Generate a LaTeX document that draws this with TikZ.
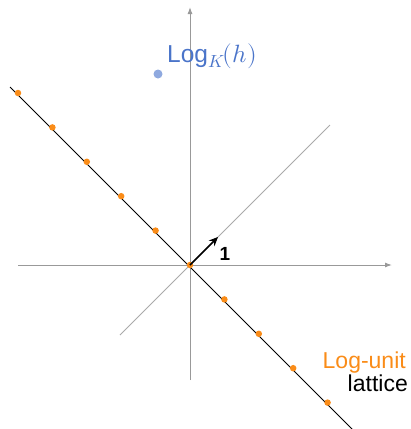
\documentclass[tikz,border=0pt]{standalone}
\usepackage{fontspec}
\setmainfont{Liberation Sans}
\newfontfamily\lmm{Latin Modern Math}
\usetikzlibrary{arrows.meta,calc}
\definecolor{lorange}{HTML}{FA8C18}
\definecolor{lblue}{HTML}{4A74C9}
\definecolor{lbluedot}{HTML}{8FA9DF}
\definecolor{axgray}{HTML}{999999}
\definecolor{diaggray}{HTML}{AAAAAA}
\tikzset{
  axis/.style={draw=axgray, line width=1pt, -{Latex[length=7pt,width=5pt]}},
  lat/.style={draw=black, line width=0.9pt},
  diag/.style={draw=diaggray, line width=0.9pt},
  latdot/.style={circle, fill=lorange, inner sep=0pt, minimum size=6.5pt},
  bdot/.style={circle, fill=lbluedot, inner sep=0pt, minimum size=9pt},
  lbl/.style={font=\fontsize{23}{25}\selectfont, inner sep=0pt},
  vec/.style={draw=black, line width=1.6pt, -{Stealth[length=9pt,width=8pt]}}
}
\begin{document}
\begin{tikzpicture}[x=1pt,y=-1pt]
\useasboundingbox (0,0) rectangle (411,429);
\coordinate (O) at (190,265);
\coordinate (xl) at (18,265);
\coordinate (xr) at (392,265);
\coordinate (yb) at (190,380);
\coordinate (yt) at (190,7);
\coordinate (dl) at (120,335);
\coordinate (dr) at (330,125);
\coordinate (ll) at (10,87);
\coordinate (lr) at (354,431);
\coordinate (vt) at (218,237);
\draw[axis] (xl) -- (xr);
\draw[axis] (yb) -- (yt);
\draw[diag] (dl) -- (dr);
\draw[lat] (ll) -- (lr);
\foreach \i in {-5,...,4} {
  \node[latdot] (p\i) at ($(O)+(\i*34.4,\i*34.4)$) {};
}
\draw[vec] (O) -- (vt);
\node[font=\fontsize{19}{21}\selectfont\bfseries, inner sep=0pt] (one) at (225,254) {1};
\node[bdot] (h) at (158,74) {};
\node[lbl, font=\fontsize{24.5}{26}\selectfont, text=lblue, anchor=base west] (hl) at (167,62) {Log\raisebox{-5pt}{\fontsize{17.5}{19}\selectfont\lmm 𝐾}{\lmm\fontsize{25}{27}\selectfont (ℎ)}};
\node[lbl, text=lorange, anchor=base east] (lu) at (406,368) {Log-unit};
\node[lbl, text=black, anchor=base east] (lt) at (408,391) {lattice};
\end{tikzpicture}
\end{document}
